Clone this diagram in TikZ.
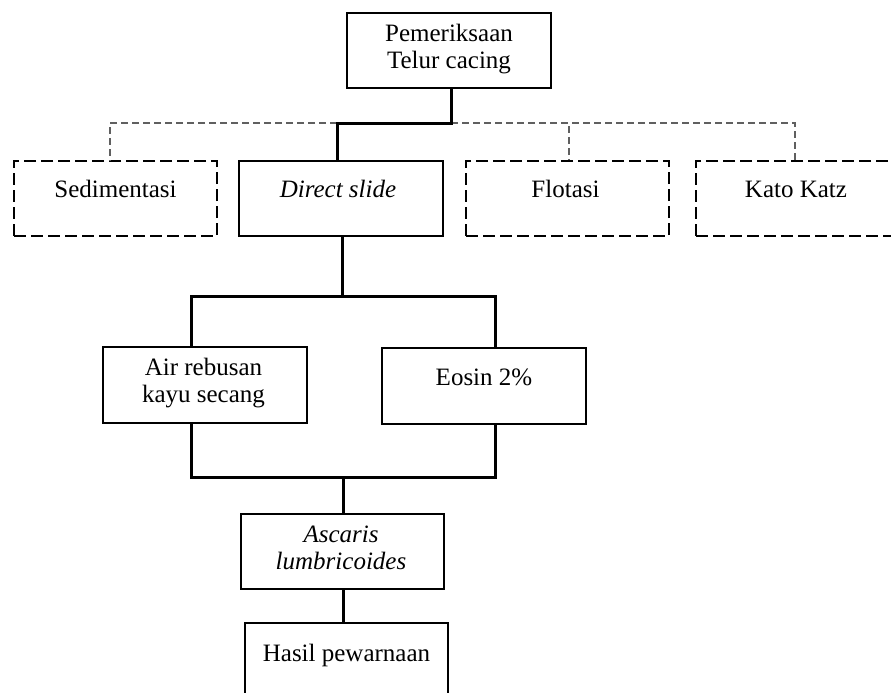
\documentclass[tikz,border=0pt]{standalone}
\usepackage{fontspec}
\setmainfont{Liberation Serif}
\begin{document}
\begin{tikzpicture}[x=1pt,y=-1pt,
  box/.style={draw=black,line width=1.4pt,minimum height=75pt,inner sep=0pt},
  dbox/.style={box,dash pattern=on 12pt off 5pt},
  txt/.style={anchor=base,inner sep=0pt,font=\fontsize{25}{27}\selectfont,text=black},
  conn/.style={line width=3pt,black},
  dconn/.style={line width=1.5pt,gray!75!black,dash pattern=on 7pt off 4pt}]
\clip (0,0) rectangle (891,693);
\useasboundingbox (0,0) rectangle (891,693);
% boxes
\node[box,minimum width=204pt] (top) at (449,50.5) {};
\node[dbox,minimum width=203pt] (sed) at (115.5,198.5) {};
\node[box,minimum width=204pt] (direct) at (341,198.5) {};
\node[dbox,minimum width=203pt] (flot) at (567.5,198.5) {};
\node[dbox,minimum width=203pt] (kato) at (797.5,198.5) {};
\node[box,minimum width=204pt,minimum height=76pt] (air) at (205,385) {};
\node[box,minimum width=204pt,minimum height=76pt] (eosin) at (484,386) {};
\node[box,minimum width=203pt] (asc) at (342.5,551.5) {};
\node[box,minimum width=203pt] (hasil) at (346.5,660.5) {};
% texts
\node[txt] (ttop) at ([yshift=-29pt]top.north) {\begin{tabular}[t]{@{}c@{}}Pemeriksaan\\Telur cacing\end{tabular}};
\node[txt] (tsed) at ([yshift=-37.5pt]sed.north) {Sedimentasi};
\node[txt] (tdirect) at ([xshift=-3pt,yshift=-37.5pt]direct.north) {\textit{Direct slide}};
\node[txt] (tflot) at ([xshift=-2pt,yshift=-37.5pt]flot.north) {Flotasi};
\node[txt] (tkato) at ([xshift=-1.5pt,yshift=-37.5pt]kato.north) {Kato Katz};
\node[txt] (tair) at ([xshift=-1.5pt,yshift=-29pt]air.north) {\begin{tabular}[t]{@{}c@{}}Air rebusan\\kayu secang\end{tabular}};
\node[txt] (teosin) at ([yshift=-38pt]eosin.north) {Eosin 2\%};
\node[txt] (tasc) at ([xshift=-1.5pt,yshift=-29pt]asc.north) {\begin{tabular}[t]{@{}c@{}}\textit{Ascaris}\\\textit{lumbricoides}\end{tabular}};
\node[txt] (thasil) at ([yshift=-39pt]hasil.north) {Hasil pewarnaan};
% junction coordinates
\coordinate (j1) at (451,123);
\coordinate (j0) at (337,123);
\coordinate (j2) at (342,296);
\coordinate (j3) at (343,477);
% dashed connectors
\draw[dconn] (j0) -| ([xshift=-5.5pt]sed.north);
\draw[dconn] (j1) -| ([xshift=1.5pt]flot.north);
\draw[dconn] (j1) -| ([xshift=-2.5pt]kato.north);
% solid connectors
\draw[conn] ([xshift=2pt]top.south) -- (j1) -- (j0) -- ([xshift=-4pt]direct.north);
\draw[conn] ([xshift=1pt]direct.south) -- (j2);
\draw[conn] ([xshift=-14pt]air.north) |- (j2) -| ([xshift=11pt]eosin.north);
\draw[conn] ([xshift=-14pt]air.south) |- (j3) -| ([xshift=11pt]eosin.south);
\draw[conn] (j3) -- ([xshift=0.5pt]asc.north);
\draw[conn] ([xshift=0.5pt]asc.south) -- ([xshift=-3.5pt]hasil.north);
\end{tikzpicture}
\end{document}
